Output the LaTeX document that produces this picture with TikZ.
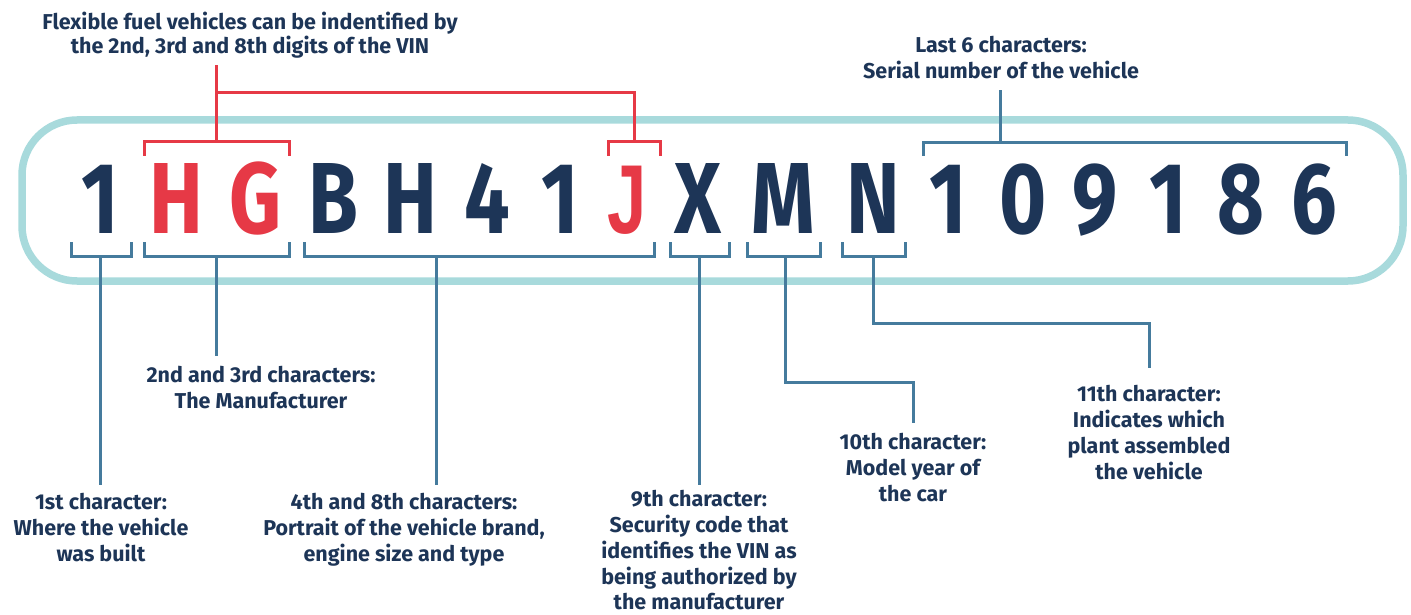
\documentclass[tikz,border=0pt]{standalone}
\usepackage{fontspec}
\setmainfont{Fira Sans}
\newfontfamily\lblfont{Fira Sans}
\newfontfamily\vinfont[FakeStretch=0.8]{Fira Sans}
\newfontfamily\jfont[FakeStretch=0.72]{Liberation Sans}
\definecolor{navy}{HTML}{1D3557}
\definecolor{vred}{HTML}{E63946}
\definecolor{steel}{HTML}{457B9D}
\definecolor{powder}{HTML}{A8DADC}
\tikzset{
  vin/.style={font=\vinfont\bfseries\fontsize{101}{101}\selectfont, text=navy, anchor=base, inner sep=0pt},
  vinred/.style={vin, text=vred},
  vinj/.style={vin, text=vred, font=\jfont\bfseries\fontsize{98}{98}\selectfont},
  lbl/.style={font=\lblfont\bfseries\fontsize{21.5}{26}\selectfont, text=navy, align=center, anchor=north, inner sep=0pt},
  frame/.style={draw=powder, line width=7.5pt, rounded corners=55pt},
  redline/.style={draw=vred, line width=3pt},
  blueline/.style={draw=steel, line width=3pt},
}
\begin{document}
\begin{tikzpicture}[x=1pt,y=-1pt]
\useasboundingbox (0,0) rectangle (1411,615);
% frame
\draw[frame] (22,120) rectangle (1403,281);
% VIN characters
\node[vin]    (c1)  at (100,233) {1};
\node[vinred] (c2)  at (176,233) {H};
\node[vinred] (c3)  at (256,233) {G};
\node[vin]    (c4)  at (333,233) {B};
\node[vin]    (c5)  at (410,233) {H};
\node[vin]    (c6)  at (487,233) {4};
\node[vin]    (c7)  at (560,233) {1};
\node[vinj]   (c8)  at (627,233) {J};
\node[vin]    (c9)  at (698,233) {X};
\node[vin]    (c10) at (783,233) {M};
\node[vin]    (c11) at (873,233) {N};
\node[vin]    (c12) at (948,233) {1};
\node[vin]    (c13) at (1023,233) {0};
\node[vin]    (c14) at (1095,233) {9};
\node[vin]    (c15) at (1168,233) {1};
\node[vin]    (c16) at (1241,233) {8};
\node[vin]    (c17) at (1314,233) {6};
% labels
\node[lbl] (lflex) at (250,12) {Flexible fuel vehicles can be indentified by\\[-2pt]the 2nd, 3rd and 8th digits of the VIN};
\node[lbl] (llast) at (1001,36) {Last 6 characters:\\Serial number of the vehicle};
\node[lbl] (lman) at (261,366) {2nd and 3rd characters:\\The Manufacturer};
\node[lbl] (lfirst) at (101,493) {1st character:\\Where the vehicle\\was built};
\node[lbl] (lfourth) at (404,493) {4th and 8th characters:\\Portrait of the vehicle brand,\\engine size and type};
\node[lbl] (lninth) at (699,490) {9th character:\\Security code that\\identifies the VIN as\\being authorized by\\[-1pt]the manufacturer};
\node[lbl] (ltenth) at (913,433) {10th character:\\Model year of\\the car};
\node[lbl] (leleventh) at (1149,385) {11th character:\\Indicates which\\plant assembled\\the vehicle};
% stem end coordinates
\coordinate (eflex) at (216.5,65);
\coordinate (elast) at (1000.6,90);
\coordinate (eman) at (216.5,356);
\coordinate (efirst) at (100.5,485);
\coordinate (efourth) at (436,485);
\coordinate (eninth) at (699.5,485);
\coordinate (etenth) at (913,423);
\coordinate (eeleventh) at (1149,368);
% red brackets (top)
\draw[redline] (144,156) -- (144,142) -- (289,142) -- (289,156);
\draw[redline] (608,156) -- (608,142) -- (660,142) -- (660,156);
\draw[redline] (216.5,142) -- (eflex);
\draw[redline] (216.5,93) -- (634,93) -- (634,142);
% serial bracket (top)
\draw[blueline] (923,156) -- (923,143) -- (1346,143) -- (1346,156);
\draw[blueline] (1000.6,143) -- (elast);
% bottom brackets
\draw[blueline] (71,242) -- (71,256) -- (131,256) -- (131,242);
\draw[blueline] (100.5,256) -- (efirst);
\draw[blueline] (144,242) -- (144,256) -- (289,256) -- (289,242);
\draw[blueline] (216.5,256) -- (eman);
\draw[blueline] (304,242) -- (304,256) -- (654,256) -- (654,242);
\draw[blueline] (436,256) -- (efourth);
\draw[blueline] (670,242) -- (670,256) -- (729,256) -- (729,242);
\draw[blueline] (699.5,256) -- (eninth);
\draw[blueline] (747,242) -- (747,256) -- (820,256) -- (820,242);
\draw[blueline] (785,256) -- (785,382) -- (913,382) -- (etenth);
\draw[blueline] (842,242) -- (842,256) -- (905,256) -- (905,242);
\draw[blueline] (873,256) -- (873,323) -- (1149,323) -- (eeleventh);
\end{tikzpicture}
\end{document}
